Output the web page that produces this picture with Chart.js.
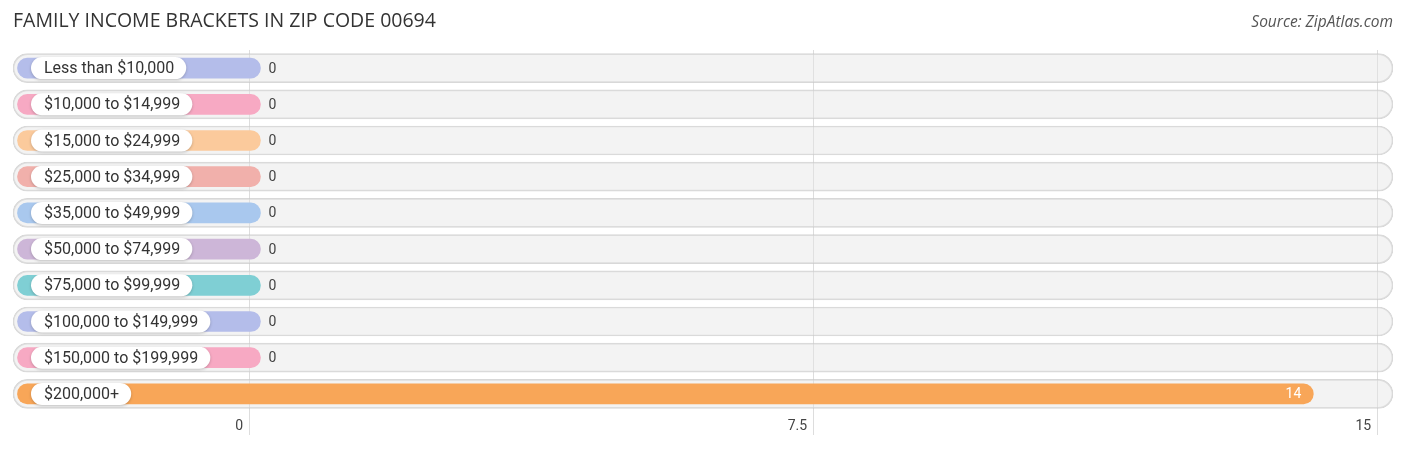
<!DOCTYPE html>
<html>
<head>
<meta charset="utf-8">
<script src="https://cdn.jsdelivr.net/npm/chart.js@4"></script>
<style>
  html, body { margin: 0; padding: 0; background: #fff; }
  #wrap { width: 1406px; height: 449px; position: relative; }
</style>
</head>
<body>
<div id="wrap"><canvas id="incomeChart" width="1406" height="449"></canvas></div>
<script>
// chart data
const brackets = [
    "Less than $10,000", "$10,000 to $14,999", "$15,000 to $24,999", "$25,000 to $34,999",
    "$35,000 to $49,999", "$50,000 to $74,999", "$75,000 to $99,999", "$100,000 to $149,999",
    "$150,000 to $199,999", "$200,000+"
];
const families = [0, 0, 0, 0, 0, 0, 0, 0, 0, 14];
const barColors = [
    "#b4bdea", "#f7a9c3", "#fbca9c", "#f1b0ab", "#a9c8ee",
    "#cdb6d8", "#7fcfd4", "#b4bdea", "#f7a9c3", "#f8a658"
];
const tickValues = [0, 7.5, 15];

const title = "FAMILY INCOME BRACKETS IN ZIP CODE 00694";
const source = "Source: ZipAtlas.com";

// axis range (bars start left of zero, behind the label pills)
const axisMin = -3.14;
const axisMax = 15.21;
const barStart = -3.08;
const capUnits = 0.15;

// draws title, label pills and value labels
const decorations = {
    id: "decorations",
    afterDatasetsDraw(chart) {
        const ctx = chart.ctx;
        const x = chart.scales.x;
        const y = chart.scales.y;

        brackets.forEach((label, i) => {
            const cy = y.getPixelForValue(i);

            // white pill with the category name
            ctx.save();
            ctx.font = '16px Roboto';
            const w = ctx.measureText(label).width + 25;
            const left = 31, h = 22;
            ctx.shadowColor = "rgba(0,0,0,0.22)";
            ctx.shadowBlur = 3;
            ctx.shadowOffsetY = 1;
            ctx.fillStyle = "#fff";
            ctx.beginPath();
            ctx.roundRect(left, cy - h / 2, w, h, h / 2);
            ctx.fill();
            ctx.restore();

            ctx.save();
            ctx.font = '16px Roboto';
            ctx.fillStyle = "#333";
            ctx.textBaseline = "middle";
            ctx.textAlign = "left";
            ctx.fillText(label, left + 13, cy + 1);
            ctx.restore();

            // value label
            const v = families[i];
            const end = x.getPixelForValue(v + capUnits);
            ctx.save();
            ctx.font = '14px Roboto';
            ctx.textBaseline = "middle";
            if (v > 2) {
                ctx.fillStyle = "#fff";
                ctx.textAlign = "right";
                ctx.fillText(String(v), end - 12, cy + 1);
            } else {
                ctx.fillStyle = "#444";
                ctx.textAlign = "left";
                ctx.fillText(String(v), end + 8, cy + 1);
            }
            ctx.restore();
        });

        ctx.save();
        ctx.font = '19.5px "Open Sans"';
        ctx.fillStyle = "#333";
        ctx.textBaseline = "middle";
        ctx.textAlign = "left";
        ctx.fillText(title, 13, 21);
        ctx.font = 'italic 15.5px "Open Sans"';
        ctx.fillStyle = "#555";
        ctx.textAlign = "right";
        ctx.fillText(source, 1393, 23);
        ctx.restore();
    }
};

const ctx = document.getElementById("incomeChart").getContext("2d");
new Chart(ctx, {
    type: "bar",
    data: {
        labels: brackets,
        datasets: [
            {
                label: "values",
                data: families.map((v) => [barStart, v + capUnits]),
                backgroundColor: barColors,
                borderWidth: 0,
                borderRadius: 10,
                borderSkipped: false,
                barThickness: 20,
                grouped: false,
                order: 1,
            },
            {
                label: "track",
                data: families.map(() => [axisMin, axisMax]),
                backgroundColor: "rgba(228,228,228,0.45)",
                borderColor: "rgba(200,200,200,0.7)",
                borderWidth: 1,
                borderRadius: 15,
                borderSkipped: false,
                barThickness: 29,
                grouped: false,
                order: 2,
            },
        ],
    },
    options: {
        indexAxis: "y",
        responsive: false,
        animation: false,
        layout: { padding: { top: 50, left: 13, right: 13, bottom: 7 } },
        plugins: {
            legend: { display: false },
            tooltip: { enabled: false },
        },
        scales: {
            x: {
                min: axisMin,
                max: axisMax,
                afterBuildTicks: (scale) => {
                    scale.ticks = tickValues.map((v) => ({ value: v }));
                },
                afterFit: (scale) => {
                    scale.height = 30;
                },
                grid: { color: "#dddddd", lineWidth: 1, drawTicks: true, tickLength: 23 },
                border: { display: false },
                ticks: {
                    padding: -17,
                    align: "end",
                    labelOffset: -6,
                    color: "#444",
                    font: { family: "Roboto", size: 14 },
                    callback: (v) => String(v),
                },
            },
            y: {
                display: false,
                offset: true,
            },
        },
    },
    plugins: [decorations],
});
</script>
</body>
</html>
